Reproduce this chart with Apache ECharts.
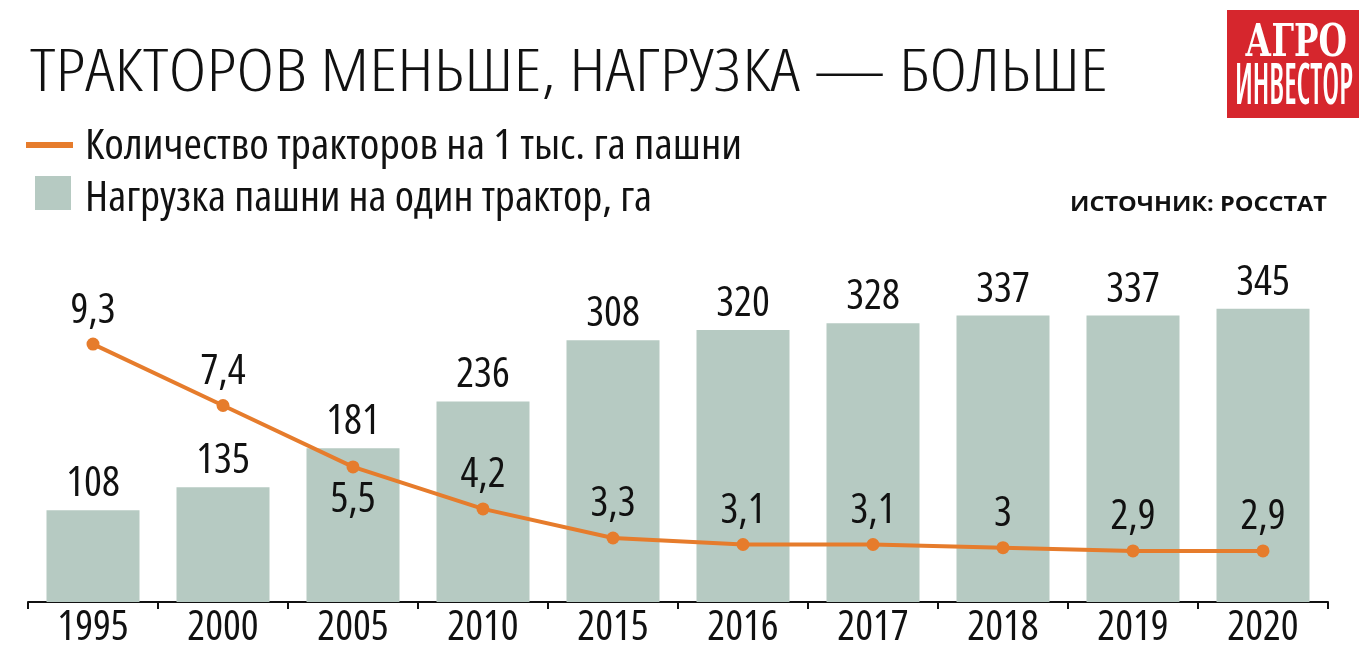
<!DOCTYPE html>
<html>
<head>
<meta charset="utf-8">
<script src="https://cdn.jsdelivr.net/npm/echarts@6/dist/echarts.min.js"></script>
<style>
  html, body { margin: 0; padding: 0; background: #ffffff; }
  #chart { width: 1368px; height: 663px; }
</style>
</head>
<body>
<div id="chart"></div>
<script>
// ---- data ----
const categories = ['1995', '2000', '2005', '2010', '2015', '2016', '2017', '2018', '2019', '2020'];
const loadPerTractor = [108, 135, 181, 236, 308, 320, 328, 337, 337, 345];      // га
const tractorsPer1000 = [9.3, 7.4, 5.5, 4.2, 3.3, 3.1, 3.1, 3.0, 2.9, 2.9];     // шт. на 1 тыс. га
const labelBelowYears = ['2005'];

const titleText = 'ТРАКТОРОВ МЕНЬШЕ, НАГРУЗКА — БОЛЬШЕ';
const legendLineText = 'Количество тракторов на 1 тыс. га пашни';
const legendBarText = 'Нагрузка пашни на один трактор, га';
const sourceText = 'ИСТОЧНИК: РОССТАТ';
const logoTop = 'АГРО';
const logoBottom = 'ИНВЕСТОР';

// ---- styling ----
const COND = '"Open Sans", "Liberation Sans", Arial, sans-serif';
const ORANGE = '#e67c2c';
const BARCOL = '#b6cac2';
const INK = '#111111';
const RED = '#d6262d';

const measureCtx = document.createElement('canvas').getContext('2d');
function fitScale(text, size, family, weight, target) {
  measureCtx.font = (weight || 'normal') + ' ' + size + 'px ' + family;
  const w = measureCtx.measureText(text).width;
  return w > 0 ? target / w : 1;
}
function txt(text, x, y, size, family, weight, targetW, fill) {
  return {
    type: 'text', x: x, y: y,
    scaleX: fitScale(text, size, family, weight, targetW),
    style: {
      text: text, fontSize: size, fontFamily: family, fontWeight: weight || 'normal',
      fill: fill || INK, verticalAlign: 'middle', align: 'left'
    }
  };
}

const fmt = v => String(v).replace('.', ',');

const chart = echarts.init(document.getElementById('chart'), null, { renderer: 'canvas' });
chart.setOption({
  backgroundColor: '#ffffff',
  animation: false,
  grid: { left: 28, right: 40, top: 262, bottom: 61 },
  xAxis: {
    type: 'category',
    data: categories,
    axisLine: { lineStyle: { color: INK, width: 2 } },
    axisTick: { show: true, length: 7, lineStyle: { color: INK, width: 2 } },
    axisLabel: { fontSize: 42, fontFamily: COND, fontWeight: 'condensed', color: INK, margin: 5 }
  },
  yAxis: [
    { type: 'value', min: 0, max: 400, show: false, splitLine: { show: false } },
    { type: 'value', min: 1.32, max: 11.84, show: false, splitLine: { show: false } }
  ],
  series: [
    {
      type: 'bar',
      name: legendBarText,
      data: loadPerTractor,
      barWidth: 93,
      itemStyle: { color: BARCOL },
      label: { show: true, position: 'top', distance: 5, fontSize: 42, fontFamily: COND, fontWeight: 'condensed', color: INK },
      z: 2
    },
    {
      type: 'line',
      name: legendLineText,
      yAxisIndex: 1,
      data: tractorsPer1000.map((v, i) => ({
        value: v,
        label: { position: labelBelowYears.includes(categories[i]) ? 'bottom' : 'top' }
      })),
      symbol: 'circle',
      symbolSize: 13,
      lineStyle: { color: ORANGE, width: 4 },
      itemStyle: { color: ORANGE },
      label: {
        show: true, distance: 6, fontSize: 42, fontFamily: COND, fontWeight: 'condensed', color: INK,
        formatter: p => fmt(p.value)
      },
      z: 5
    }
  ],
  graphic: [
    txt(titleText, 30, 74, 58, COND, 'condensed 300', 1078),
    { type: 'rect', shape: { x: 26, y: 142, width: 47, height: 6 }, style: { fill: ORANGE } },
    txt(legendLineText, 85, 147, 42, COND, 'condensed', 657),
    { type: 'rect', shape: { x: 35, y: 176, width: 36, height: 34 }, style: { fill: BARCOL } },
    txt(legendBarText, 85, 199, 42, COND, 'condensed', 567),
    txt(sourceText, 1070, 205, 21, COND, 'bold', 257),
    { type: 'rect', shape: { x: 1227, y: 10, width: 132, height: 108 }, style: { fill: RED } },
    txt(logoTop, 1245, 44, 45, '"DejaVu Serif", serif', 'bold', 102, '#ffffff'),
    txt(logoBottom, 1235, 87, 58, COND, 'condensed 600', 118, '#ffffff')
  ]
});
</script>
</body>
</html>
